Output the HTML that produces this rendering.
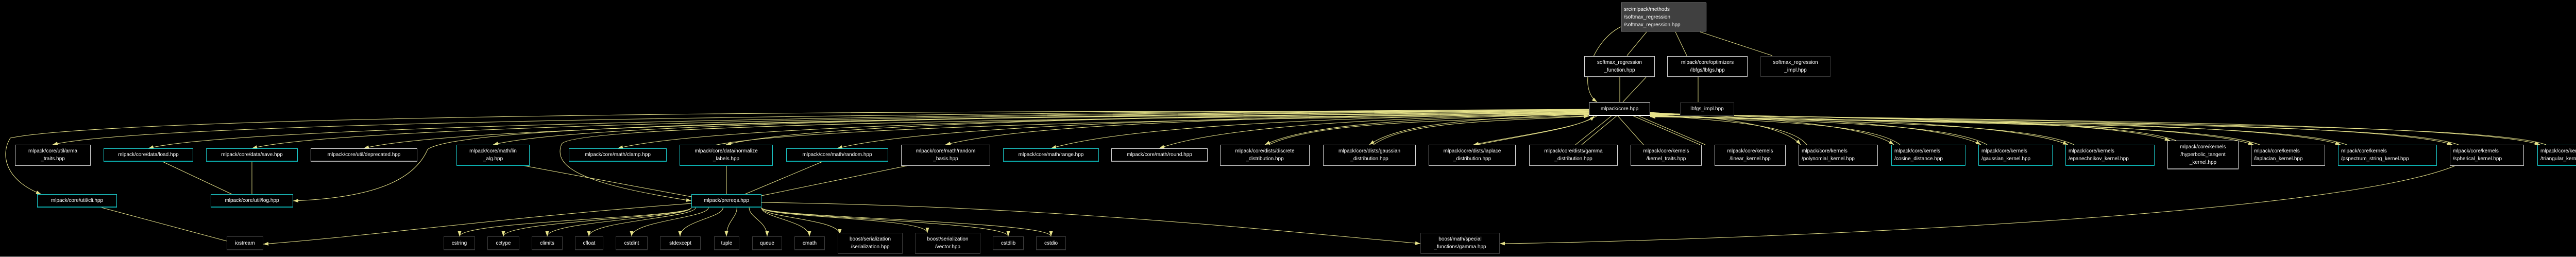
<!DOCTYPE html>
<html><head><meta charset="utf-8">
<style>
html,body{margin:0;padding:0;background:#000;}
#c{position:relative;width:5077px;height:499px;overflow:hidden;background:#000;}
svg{position:absolute;left:0;top:0;}
.n{position:absolute;box-sizing:border-box;background:#000;color:#fff;font-family:"Liberation Sans",Arial,sans-serif;font-size:10px;line-height:15px;display:flex;flex-direction:column;justify-content:center;text-align:center;white-space:nowrap;border:1px solid #ccc;}
.cy{border-color:#1ccaca;border-bottom:2px solid #0aaeae;}
.wh{border-color:#d8d8d8;border-bottom:2px solid #aaa;}
.lf{border-color:#3c3c3c;border-bottom:2px solid #333;}
.l{text-align:left;padding-left:5px;}
.top{background:#404040;border-color:#ccc;}
#bl{position:absolute;left:0;top:497px;width:5077px;height:2px;background:#555;}
</style></head><body><div id="c">
<svg id="s" width="5077" height="499" viewBox="0 0 5077 499"></svg>

<div class="n top l" style="left:3146px;top:5px;width:166px;height:56px">src/mlpack/methods<br>/softmax_regression<br>/softmax_regression.hpp</div>
<div class="n wh" style="left:3075px;top:109px;width:137px;height:41px">softmax_regression<br>_function.hpp</div>
<div class="n wh" style="left:3236px;top:109px;width:156px;height:41px">mlpack/core/optimizers<br>/lbfgs/lbfgs.hpp</div>
<div class="n lf" style="left:3417px;top:109px;width:136px;height:41px">softmax_regression<br>_impl.hpp</div>
<div class="n wh" style="left:3084px;top:199px;width:119px;height:26px;border-color:#fff">mlpack/core.hpp</div>
<div class="n lf" style="left:3261px;top:199px;width:105px;height:26px">lbfgs_impl.hpp</div>

<div class="n wh" style="left:29px;top:281px;width:147px;height:41px">mlpack/core/util/arma<br>_traits.hpp</div>
<div class="n cy" style="left:201px;top:288px;width:174px;height:26px">mlpack/core/data/load.hpp</div>
<div class="n cy" style="left:400px;top:288px;width:178px;height:26px">mlpack/core/data/save.hpp</div>
<div class="n wh" style="left:603px;top:288px;width:207px;height:26px">mlpack/core/util/deprecated.hpp</div>
<div class="n cy" style="left:886px;top:281px;width:142px;height:41px">mlpack/core/math/lin<br>_alg.hpp</div>
<div class="n cy" style="left:1104px;top:288px;width:190px;height:26px">mlpack/core/math/clamp.hpp</div>
<div class="n cy" style="left:1319px;top:281px;width:181px;height:41px">mlpack/core/data/normalize<br>_labels.hpp</div>
<div class="n cy" style="left:1526px;top:288px;width:198px;height:26px">mlpack/core/math/random.hpp</div>
<div class="n wh" style="left:1749px;top:281px;width:173px;height:41px">mlpack/core/math/random<br>_basis.hpp</div>
<div class="n cy" style="left:1947px;top:288px;width:186px;height:26px">mlpack/core/math/range.hpp</div>
<div class="n wh" style="left:2157px;top:288px;width:187px;height:26px">mlpack/core/math/round.hpp</div>
<div class="n wh" style="left:2368px;top:281px;width:174px;height:41px">mlpack/core/dists/discrete<br>_distribution.hpp</div>
<div class="n wh" style="left:2568px;top:281px;width:180px;height:41px">mlpack/core/dists/gaussian<br>_distribution.hpp</div>
<div class="n wh" style="left:2773px;top:281px;width:169px;height:41px">mlpack/core/dists/laplace<br>_distribution.hpp</div>
<div class="n wh" style="left:2968px;top:281px;width:172px;height:41px">mlpack/core/dists/gamma<br>_distribution.hpp</div>
<div class="n wh" style="left:3165px;top:281px;width:138px;height:41px">mlpack/core/kernels<br>/kernel_traits.hpp</div>
<div class="n wh" style="left:3328px;top:281px;width:138px;height:41px">mlpack/core/kernels<br>/linear_kernel.hpp</div>
<div class="n wh l" style="left:3491px;top:281px;width:154px;height:41px">mlpack/core/kernels<br>/polynomial_kernel.hpp</div>
<div class="n cy l" style="left:3671px;top:281px;width:144px;height:41px">mlpack/core/kernels<br>/cosine_distance.hpp</div>
<div class="n cy l" style="left:3840px;top:281px;width:144px;height:41px">mlpack/core/kernels<br>/gaussian_kernel.hpp</div>
<div class="n cy l" style="left:4009px;top:281px;width:173px;height:41px">mlpack/core/kernels<br>/epanechnikov_kernel.hpp</div>
<div class="n wh" style="left:4207px;top:273px;width:138px;height:56px">mlpack/core/kernels<br>/hyperbolic_tangent<br>_kernel.hpp</div>
<div class="n wh l" style="left:4369px;top:281px;width:144px;height:41px">mlpack/core/kernels<br>/laplacian_kernel.hpp</div>
<div class="n cy l" style="left:4538px;top:281px;width:192px;height:41px">mlpack/core/kernels<br>/pspectrum_string_kernel.hpp</div>
<div class="n wh l" style="left:4755px;top:281px;width:144px;height:41px">mlpack/core/kernels<br>/spherical_kernel.hpp</div>
<div class="n cy l" style="left:4925px;top:281px;width:146px;height:41px">mlpack/core/kernels<br>/triangular_kernel.hpp</div>

<div class="n cy" style="left:72px;top:377px;width:155px;height:26px">mlpack/core/util/cli.hpp</div>
<div class="n cy" style="left:409px;top:377px;width:160px;height:26px">mlpack/core/util/log.hpp</div>
<div class="n cy" style="left:1342px;top:377px;width:136px;height:26px">mlpack/prereqs.hpp</div>

<div class="n lf" style="left:440px;top:459px;width:71px;height:27px">iostream</div>
<div class="n lf" style="left:861px;top:459px;width:61px;height:27px">cstring</div>
<div class="n lf" style="left:946px;top:459px;width:62px;height:27px">cctype</div>
<div class="n lf" style="left:1032px;top:459px;width:60px;height:27px">climits</div>
<div class="n lf" style="left:1116px;top:459px;width:55px;height:27px">cfloat</div>
<div class="n lf" style="left:1195px;top:459px;width:62px;height:27px">cstdint</div>
<div class="n lf" style="left:1281px;top:459px;width:79px;height:27px">stdexcept</div>
<div class="n lf" style="left:1386px;top:459px;width:49px;height:27px">tuple</div>
<div class="n lf" style="left:1460px;top:459px;width:58px;height:27px">queue</div>
<div class="n lf" style="left:1542px;top:459px;width:59px;height:27px">cmath</div>
<div class="n lf" style="left:1626px;top:452px;width:126px;height:41px">boost/serialization<br>/serialization.hpp</div>
<div class="n lf" style="left:1776px;top:452px;width:127px;height:41px">boost/serialization<br>/vector.hpp</div>
<div class="n lf" style="left:1927px;top:459px;width:60px;height:27px">cstdlib</div>
<div class="n lf" style="left:2011px;top:459px;width:58px;height:27px">cstdio</div>
<div class="n lf" style="left:2757px;top:452px;width:154px;height:41px">boost/math/special<br>_functions/gamma.hpp</div>
<div id="bl"></div>
</div>
<script>
var S=document.getElementById('s'),C='#e6e28a',h='';
function ar(x,y,dx,dy){var L=Math.hypot(dx,dy)||1;dx/=L;dy/=L;var bx=x-dx*10,by=y-dy*10,px=-dy*3.5,py=dx*3.5;
h+='<polygon points="'+x+','+y+' '+(bx+px)+','+(by+py)+' '+(bx-px)+','+(by-py)+'" fill="'+C+'"/>';}
function e(x1,y1,a,b,c,d,x2,y2,noar){h+='<path d="M'+x1+','+y1+' C'+a+','+b+' '+c+','+d+' '+x2+','+y2+'" fill="none" stroke="'+C+'" stroke-width="1"/>';if(!noar)ar(x2,y2,x2-c,y2-d);}
function L(x1,y1,x2,y2){e(x1,y1,x1,y1,x2,y2,x2,y2);}
e(3146,52,3090,80,3060,170,3100,198);
L(3196,62,3158,108);L(3252,62,3274,108);L(3300,62,3440,108);
L(3144,150,3144,198);L(3195,150,3150,198);L(3296,150,3296,198);
var left=[[102,281],[288,288],[489,288],[706,288],[957,281],[1199,288],[1409,281],[1625,288],[1835,281],[2040,288],[2250,288],[2455,281],[2658,281]];
left.forEach(function(t,i){var sy=212+i*0.8,sx=3084,tx=t[0],ty=t[1];
e(sx,sy,sx-(sx-tx)*0.45,sy+8,tx+Math.min(180,(sx-tx)*0.15),ty-45,tx,ty);
if(tx>2300){e(tx+8,ty,tx+Math.min(180,(sx-tx)*0.15)+8,ty-45,sx-(sx-tx)*0.45,sy+14,sx,sy+4);}});
e(3100,225,3060,250,2950,262,2860,281);e(2868,281,2960,262,3070,248,3095,225);
L(3128,225,3058,281);L(3070,281,3138,225);
L(3140,225,3190,281);L(3170,225,3300,281);L(3310,281,3180,225);
var right=[[3495,281],[3676,281],[3845,281],[4014,281],[4212,273],[4374,281],[4543,281],[4760,281],[4930,281]];
right.forEach(function(t,i){var sx=3203,sy=218+i*0.6,tx=t[0],ty=t[1];
e(sx,sy,sx+(tx-sx)*0.45,sy+10,tx-Math.min(120,(tx-sx)*0.12),ty-40,tx,ty);
e(tx+12,ty,tx-Math.min(120,(tx-sx)*0.12)+12,ty-43,sx+(tx-sx)*0.45,sy+18,sx,sy+4);});
e(3084,218,1500,210,200,230,20,268,true);e(20,268,0,300,10,350,80,377);
e(3084,220,1800,225,900,240,830,290,true);e(830,290,800,360,700,385,569,390);
e(3084,222,1700,230,1100,250,1090,280,true);e(1090,280,1070,330,1150,360,1342,390);
e(3084,223,2000,232,1300,260,1360,300,true);
L(316,314,450,377);L(489,314,489,377);
L(1018,322,1342,382);L(1410,322,1410,377);L(1596,314,1446,377);L(1760,322,1478,380);
[[892,459],[977,459],[1062,459],[1143,459],[1226,459],[1320,459],[1410,459],[1489,459],[1571,459],[1630,455],[1800,452],[1957,459],[2040,459]].forEach(function(t){
var sx=1342+Math.max(0,Math.min(136,(t[0]-1342)*0.3+68)),sy=403;e(sx,sy,sx,sy+20,t[0],t[1]-30,t[0],t[1]);});
e(1342,395,1000,420,700,460,511,474);
L(197,403,440,468);
e(1478,393,2000,400,2400,440,2757,473);
e(4765,322,4500,430,3200,470,2911,473);
S.innerHTML=h;
</script>
</body></html>
